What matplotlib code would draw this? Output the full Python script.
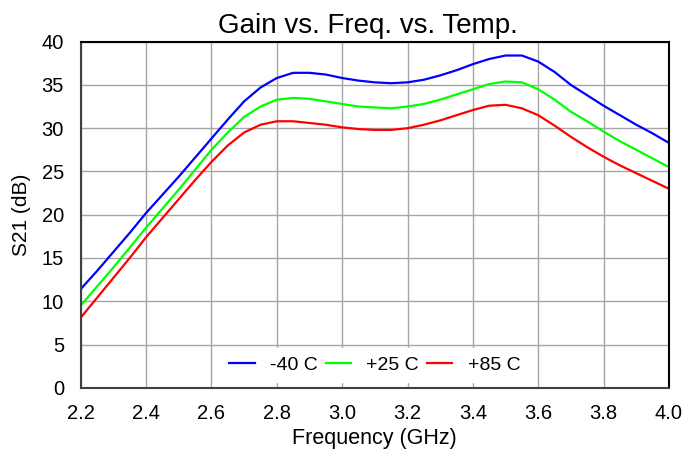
import numpy as np
import matplotlib.pyplot as plt

plt.rcParams['font.family'] = ['Liberation Sans', 'DejaVu Sans']

freq = np.round(np.arange(2.2, 4.0001, 0.05), 2)

gain_m40 = [11.4, 13.5, 15.7, 17.9, 20.2, 22.3, 24.4, 26.6, 28.8, 31.0, 33.1, 34.7,
            35.8, 36.4, 36.4, 36.2, 35.8, 35.5, 35.3, 35.2, 35.3, 35.6, 36.1, 36.7,
            37.4, 38.0, 38.4, 38.4, 37.7, 36.5, 35.0, 33.8, 32.6, 31.5, 30.4, 29.4, 28.3]
gain_p25 = [9.5, 11.7, 13.9, 16.2, 18.5, 20.7, 22.9, 25.2, 27.5, 29.5, 31.3, 32.5,
            33.3, 33.5, 33.4, 33.1, 32.8, 32.5, 32.4, 32.3, 32.5, 32.8, 33.3, 33.9,
            34.5, 35.1, 35.4, 35.3, 34.5, 33.3, 31.9, 30.8, 29.6, 28.5, 27.5, 26.5, 25.5]
gain_p85 = [8.1, 10.4, 12.7, 15.0, 17.4, 19.6, 21.8, 24.0, 26.1, 28.0, 29.5, 30.4,
            30.8, 30.8, 30.6, 30.4, 30.1, 29.9, 29.8, 29.8, 30.0, 30.4, 30.9, 31.5,
            32.1, 32.6, 32.7, 32.3, 31.5, 30.3, 29.0, 27.8, 26.7, 25.7, 24.8, 23.9, 23.0]

labels = ['-40 C', '+25 C', '+85 C']
colors = ['#0000ff', '#00ff00', '#ff0000']

fig = plt.figure(figsize=(6.84, 4.53), dpi=100)
ax = fig.add_axes([0.118, 0.144, 0.860, 0.764])

for g, lab, c in zip([gain_m40, gain_p25, gain_p85], labels, colors):
    ax.plot(freq, g, color=c, lw=1.6, label=lab)

ax.set_xlim(2.2, 4.0)
ax.set_ylim(0, 40)
ax.set_xticks(np.arange(2.2, 4.01, 0.2))
ax.set_xticklabels([f'{v:.1f}' for v in np.arange(2.2, 4.01, 0.2)])
ax.set_yticks(range(0, 41, 5))
ax.grid(True, color='#a6a6a6', lw=1)
ax.tick_params(labelsize=14.5, length=0)
ax.tick_params(axis='x', pad=12)
ax.tick_params(axis='y', pad=12)
for s in ax.spines.values():
    s.set_linewidth(1.5)
    s.set_color('black')
ax.spines['left'].set_color('#404040')
ax.spines['bottom'].set_color('#404040')

ax.set_title('Gain vs. Freq. vs. Temp.', fontsize=20, pad=6, x=0.488)
ax.set_xlabel('Frequency (GHz)', fontsize=15.5, labelpad=3)
ax.set_ylabel('S21 (dB)', fontsize=15, labelpad=8)

leg = ax.legend(loc='lower center', bbox_to_anchor=(0.5, -0.01), ncol=3, frameon=True,
                fontsize=14, handlelength=1.3, handletextpad=0.8, columnspacing=0.4,
                fancybox=False, borderpad=0.4)
leg.get_frame().set_edgecolor('white')
leg.get_frame().set_facecolor('white')
leg.get_frame().set_alpha(1)

fig.savefig('out.png', dpi=100)
